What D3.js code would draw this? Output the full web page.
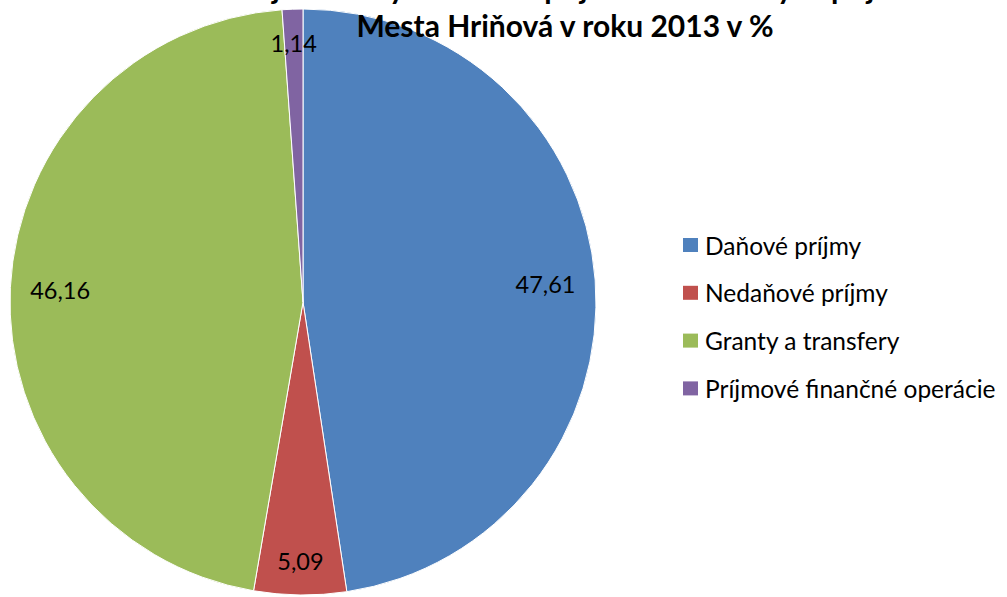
<!DOCTYPE html>
<html>
<head>
<meta charset="utf-8">
<script src="https://cdn.jsdelivr.net/npm/d3@7/dist/d3.min.js"></script>
<style>
  html, body { margin: 0; padding: 0; background: #fff; }
  svg { display: block; }
  text { font-family: Lato, "Open Sans", sans-serif; }
</style>
</head>
<body>
<svg id="chart" width="1007" height="597"></svg>
<script>
const titleLines = ["Podiel jednotlivých druhov príjmov na celkových príjmoch", "Mesta Hriňová v roku 2013 v %"];
const categories = ["Daňové príjmy", "Nedaňové príjmy", "Granty a transfery", "Príjmové finančné operácie"];
const values = [47.61, 5.09, 46.16, 1.14];
const colors = ["#4F81BD", "#C0504D", "#9BBB59", "#8064A2"];

const W = 1007, H = 597;
const svg = d3.select("#chart");
const cx = 303, cy = 302, R = 293;

const locale = d3.formatLocale({decimal: ",", thousands: " ", grouping: [3], currency: ["", " €"]});
const fmt = locale.format(".2f");

const data = categories.map((c, i) => ({name: c, value: values[i], color: colors[i]}));
const pie = d3.pie().sort(null).value(d => d.value);
const arcs = pie(data);
const arc = d3.arc().innerRadius(0).outerRadius(R);

const g = svg.append("g").attr("transform", `translate(${cx},${cy})`);
g.selectAll("path.slice").data(arcs).join("path")
  .attr("class", "slice")
  .attr("d", arc)
  .attr("fill", d => d.data.color)
  .attr("stroke", "#fff")
  .attr("stroke-width", 1);

// data labels
g.selectAll("text.lbl").data(arcs).join("text")
  .attr("class", "lbl")
  .attr("transform", d => {
    const span = d.endAngle - d.startAngle;
    const r = span < 0.5 ? R * 0.885 : R * 0.83;
    const a = (d.startAngle + d.endAngle) / 2;
    return `translate(${Math.sin(a) * r},${-Math.cos(a) * r})`;
  })
  .attr("text-anchor", "middle")
  .attr("dominant-baseline", "central")
  .attr("font-size", 23.5)
  .attr("fill", "#000")
  .text(d => fmt(d.data.value));

// title
const title = svg.append("g");
title.selectAll("text").data(titleLines).join("text")
  .attr("x", 565)
  .attr("y", (d, i) => -1 + i * 38)
  .attr("text-anchor", "middle")
  .attr("font-size", 30)
  .attr("font-weight", "bold")
  .attr("fill", "#000")
  .text(d => d);

// legend
const legend = svg.append("g").attr("transform", "translate(683,245)");
const items = legend.selectAll("g").data(data).join("g")
  .attr("transform", (d, i) => `translate(0,${i * 47.8})`);
items.append("rect")
  .attr("x", 0).attr("y", -7)
  .attr("width", 15).attr("height", 14)
  .attr("fill", d => d.color);
items.append("text")
  .attr("x", 22).attr("y", 0)
  .attr("dominant-baseline", "central")
  .attr("font-size", 24.5)
  .attr("fill", "#000")
  .text(d => d.name);
</script>
</body>
</html>
